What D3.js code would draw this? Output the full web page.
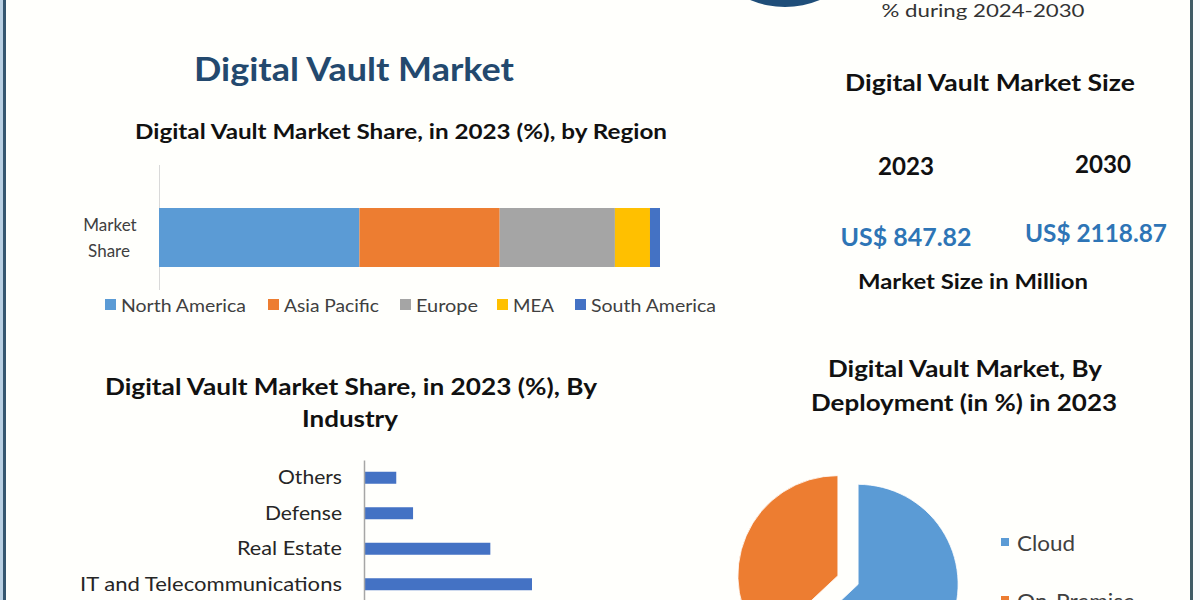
<!DOCTYPE html>
<html>
<head>
<meta charset="utf-8">
<script src="https://cdn.jsdelivr.net/npm/d3@7"></script>
<style>
  html, body { margin: 0; padding: 0; background: #fffffc; }
  svg { display: block; font-family: Lato, "Open Sans", sans-serif; }
</style>
</head>
<body>
<svg id="chart" width="1200" height="600"></svg>
<script>
// ---------- DATA ----------
const regionCategories = ["North America", "Asia Pacific", "Europe", "MEA", "South America"];
const regionShares = [40, 28, 23, 7, 2];
const regionColors = ["#5b9bd5", "#ed7d31", "#a5a5a5", "#ffc000", "#4472c4"];

const industryCategories = ["Others", "Defense", "Real Estate", "IT and Telecommunications"];
const industryShares = [4.8, 7.3, 18.8, 25.0];

const deploymentCategories = ["Cloud", "On-Premise"];
const deploymentShares = [63, 37];
const deploymentColors = ["#5b9bd5", "#ed7d31"];

const sizeYears = ["2023", "2030"];
const sizeValues = ["US$ 847.82", "US$ 2118.87"];

// ---------- SETUP ----------
const svg = d3.select("#chart");
svg.append("rect").attr("width", 1200).attr("height", 600).attr("fill", "#fffffc");

function txt(g, x, y, s, o = {}) {
  const t = g.append("text")
    .attr("x", x).attr("y", y)
    .attr("text-anchor", o.anchor || "middle")
    .attr("dominant-baseline", "central")
    .attr("font-size", o.size || 18)
    .attr("font-weight", o.weight || "normal")
    .attr("fill", o.fill || "#111")
    .text(s);
  if (o.width) t.attr("textLength", o.width).attr("lengthAdjust", "spacingAndGlyphs");
  return t;
}

// frame borders
svg.append("rect").attr("x", 0).attr("y", 0).attr("width", 3).attr("height", 600).attr("fill", "#b9d0e3");
svg.append("rect").attr("x", 3).attr("y", 0).attr("width", 3).attr("height", 600).attr("fill", "#35566f");
svg.append("rect").attr("x", 1190).attr("y", 0).attr("width", 3).attr("height", 600).attr("fill", "#3c5b66");
svg.append("rect").attr("x", 1193).attr("y", 0).attr("width", 7).attr("height", 600).attr("fill", "#f6fbfd");

// cut-off header elements
svg.append("circle").attr("cx", 785).attr("cy", -84).attr("r", 91).attr("fill", "#1f4e79");
txt(svg, 983, 10, "% during  2024-2030", { size: 18, fill: "#333", width: 203 });

// ---------- MAIN TITLE ----------
txt(svg, 354, 68, "Digital Vault Market", { size: 33, weight: "bold", fill: "#23496e", width: 320 });

// ---------- STACKED REGION BAR ----------
txt(svg, 401, 131, "Digital Vault Market Share, in 2023 (%), by Region", { size: 20, weight: "bold", width: 532 });

const xR = d3.scaleLinear().domain([0, d3.sum(regionShares)]).range([159, 660]);
const yR = d3.scaleBand().domain(["Market Share"]).range([180, 295]).paddingInner(0).paddingOuter(0.475);

const stackData = [Object.fromEntries(regionCategories.map((c, i) => [c, regionShares[i]]))];
const stacked = d3.stack().keys(regionCategories)(stackData);

const gR = svg.append("g");
gR.append("line").attr("x1", 159.5).attr("x2", 159.5).attr("y1", 165).attr("y2", 290).attr("stroke", "#d9d9d9");
gR.selectAll("rect.seg").data(stacked).join("rect")
  .attr("class", "seg")
  .attr("x", d => xR(d[0][0]))
  .attr("width", d => xR(d[0][1]) - xR(d[0][0]))
  .attr("y", yR("Market Share"))
  .attr("height", yR.bandwidth())
  .attr("fill", (d, i) => regionColors[i]);

txt(gR, 110, 224, "Market", { size: 17, fill: "#404040" });
txt(gR, 109, 250, "Share", { size: 17, fill: "#404040" });

// legend
const legX = [105, 268, 400, 497, 575];
const legW = [125, 95, 62, 41, 125];
regionCategories.forEach((c, i) => {
  gR.append("rect").attr("x", legX[i]).attr("y", 299).attr("width", 11).attr("height", 11).attr("fill", regionColors[i]);
  txt(gR, legX[i] + 16, 305, c, { size: 17, fill: "#404040", anchor: "start", width: legW[i] });
});

// ---------- MARKET SIZE ----------
txt(svg, 990, 82, "Digital Vault Market Size", { size: 22, weight: "bold", width: 290 });
const sizeX = [906, 1103];
const sizeValX = [906, 1096];
const sizeValW = [131, 142];
sizeYears.forEach((y, i) => {
  txt(svg, sizeX[i], i === 0 ? 165 : 163, y, { size: 24, weight: "bold", width: 56 });
  txt(svg, sizeValX[i], i === 0 ? 236 : 232, sizeValues[i], { size: 24, weight: "bold", fill: "#2e75b6", width: sizeValW[i] });
});
txt(svg, 973, 281, "Market Size in Million", { size: 20, weight: "bold", width: 230 });

// ---------- INDUSTRY BAR ----------
txt(svg, 351, 386, "Digital Vault Market Share, in 2023 (%), By", { size: 22, weight: "bold", width: 492 });
txt(svg, 350, 418, "Industry", { size: 22, weight: "bold", width: 96 });

const xI = d3.scaleLinear().domain([0, 25]).range([364, 532]);
const yI = d3.scaleBand().domain(industryCategories).range([460, 602]).paddingInner(0.662).paddingOuter(0.331);
const gI = svg.append("g");
gI.selectAll("rect").data(industryCategories).join("rect")
  .attr("x", xI(0))
  .attr("y", d => yI(d))
  .attr("width", (d, i) => xI(industryShares[i]) - xI(0))
  .attr("height", yI.bandwidth())
  .attr("fill", "#4472c4");
const axI = gI.append("g").attr("transform", "translate(364,0)").call(d3.axisLeft(yI).tickSize(0).tickPadding(22));
axI.select(".domain").attr("stroke", "#a6a6a6").attr("stroke-width", 1.5);
const labW = { "Others": 64, "Defense": 77, "Real Estate": 105, "IT and Telecommunications": 262 };
axI.selectAll(".tick text")
  .attr("font-family", "Lato, 'Open Sans', sans-serif")
  .attr("font-size", 20).attr("fill", "#262626")
  .attr("textLength", d => labW[d]).attr("lengthAdjust", "spacingAndGlyphs");

// ---------- DEPLOYMENT PIE ----------
txt(svg, 965, 368, "Digital Vault Market, By", { size: 22, weight: "bold", width: 274 });
txt(svg, 964, 402, "Deployment (in %) in 2023", { size: 22, weight: "bold", width: 306 });

const pie = d3.pie().sort(null).value(d => d)(deploymentShares);
const arc = d3.arc().innerRadius(0).outerRadius(100);
const pcx = 848, pcy = 580, explode = 11;
const gP = svg.append("g");
gP.selectAll("path").data(pie).join("path")
  .attr("d", arc)
  .attr("transform", d => {
    const m = (d.startAngle + d.endAngle) / 2;
    return `translate(${pcx + explode * Math.sin(m)},${pcy - explode * Math.cos(m)})`;
  })
  .attr("fill", (d, i) => deploymentColors[i])
  .attr("stroke", "#ffffff").attr("stroke-width", 0.8);

const pLegY = [542, 600];
const pLegW = [58, 118];
deploymentCategories.forEach((c, i) => {
  gP.append("rect").attr("x", 1001).attr("y", pLegY[i] - 4).attr("width", 8).attr("height", 8).attr("fill", deploymentColors[i]);
  txt(gP, 1017, pLegY[i], c, { size: 22, fill: "#404040", anchor: "start", width: pLegW[i] });
});
</script>
</body>
</html>
